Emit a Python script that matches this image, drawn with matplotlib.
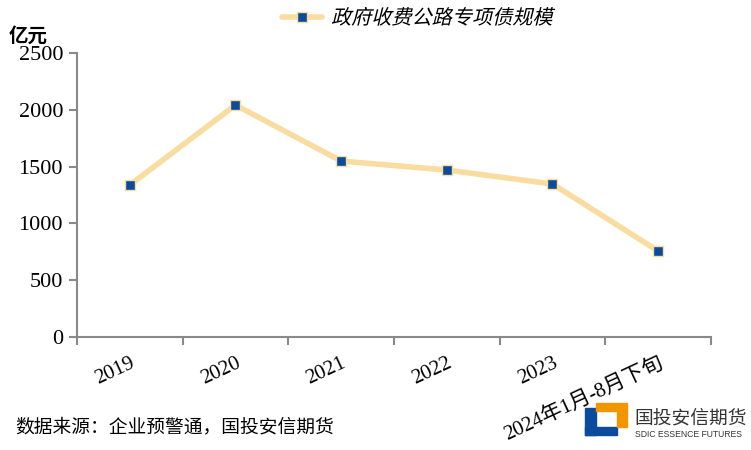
import matplotlib.pyplot as plt
import matplotlib.patches as mpatches
from matplotlib.lines import Line2D
from matplotlib.textpath import TextPath
from matplotlib.font_manager import FontProperties
from matplotlib.transforms import Affine2D
import numpy as np

plt.rcParams['font.family'] = ['Liberation Serif', 'Noto Sans CJK SC']

categories = ['2019', '2020', '2021', '2022', '2023', '2024年1月-8月下旬']
values = [1338, 2042, 1549, 1470, 1347, 757]
series_name = '政府收费公路专项债规模'

line_color = '#F9DCA0'
marker_color = '#0B4B9B'

fig = plt.figure(figsize=(7.51, 4.5), dpi=100)
ax = fig.add_axes([0.1025, 0.2511, 0.8442, 0.6311])

x = np.arange(len(categories))
ax.plot(x, values, color=line_color, lw=4, marker='s', markersize=7,
        markerfacecolor=marker_color, markeredgecolor=line_color, markeredgewidth=1,
        solid_capstyle='round')

ax.set_xlim(-0.5, len(categories) - 0.5)
ax.set_ylim(0, 2500)
ax.set_yticks([0, 500, 1000, 1500, 2000, 2500])
ax.tick_params(axis='y', labelsize=16, color='#898989', length=6, width=1.5, pad=4)

ax.set_xticks(x)
ax.set_xticklabels(categories, rotation=25, ha='right', rotation_mode='anchor')
ax.tick_params(axis='x', which='major', length=0, labelsize=15, pad=12)
ax.set_xticks(np.arange(-0.5, len(categories)), minor=True)
ax.tick_params(axis='x', which='minor', length=6, width=1.5, color='#898989')

for s in ['top', 'right']:
    ax.spines[s].set_visible(False)
for s in ['left', 'bottom']:
    ax.spines[s].set_color('#898989')
    ax.spines[s].set_linewidth(1.5)

# legend drawn by hand so the CJK text can be slanted like the original
fig.add_artist(Line2D([282 / 751, 322 / 751], [0.962, 0.962], transform=fig.transFigure,
                      color=line_color, lw=4, solid_capstyle='round'))
fig.add_artist(Line2D([302 / 751], [0.962], transform=fig.transFigure, marker='s',
                      markersize=7, markerfacecolor=marker_color, markeredgecolor=line_color,
                      markeredgewidth=1, lw=0))
tp = TextPath((0, 0), series_name, size=14.5, prop=FontProperties(family='Noto Sans CJK SC'))
tr = Affine2D().skew_deg(14, 0).scale(fig.dpi / 72).translate(331, 450 - 24)
fig.add_artist(mpatches.PathPatch(tp, transform=tr, color='black', lw=0))

fig.text(0.012, 0.908, '亿元', fontsize=14, fontweight='bold', family='Noto Sans CJK SC')
fig.text(0.02, 0.04, '数据来源：企业预警通，国投安信期货', fontsize=13.5, family='Noto Sans CJK SC')

# logo
fig.patches.append(mpatches.Rectangle((0.779, 0.033), 0.043, 0.018, color=marker_color, transform=fig.transFigure))
fig.patches.append(mpatches.Rectangle((0.779, 0.033), 0.014, 0.06, color=marker_color, transform=fig.transFigure))
fig.patches.append(mpatches.Polygon([(0.793, 0.104), (0.835, 0.104), (0.835, 0.051), (0.822, 0.051),
                                     (0.822, 0.087), (0.793, 0.087)], closed=True,
                                    color='#F29600', transform=fig.transFigure))
fig.text(0.845, 0.058, '国投安信期货', fontsize=13.5, family='Noto Sans CJK SC', color='#333333')
fig.text(0.845, 0.028, 'SDIC ESSENCE FUTURES', fontsize=6.2, family='Liberation Sans', color='#333333')

fig.savefig('out.png', dpi=100)
